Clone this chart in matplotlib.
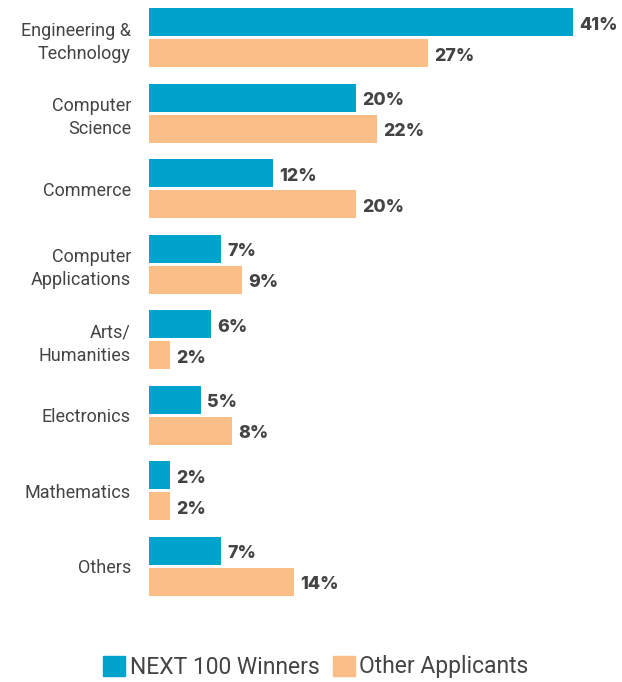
import matplotlib.pyplot as plt
from matplotlib.patches import Patch

categories = ['Engineering &\nTechnology', 'Computer\nScience', 'Commerce',
              'Computer\nApplications', 'Arts/\nHumanities', 'Electronics',
              'Mathematics', 'Others']
winners = [41, 20, 12, 7, 6, 5, 2, 7]
others = [27, 22, 20, 9, 2, 8, 2, 14]

teal = '#00a3cc'
peach = '#fbbe87'
text_col = '#444444'

fig = plt.figure(figsize=(6.22, 6.82), dpi=100)
ax = fig.add_axes([149 / 622, 1 - 604 / 682, 1 - 149 / 622, 604 / 682])

h = 0.37
gap = 0.02
pos = list(range(len(categories)))
b1 = ax.barh([p - h / 2 - gap for p in pos], winners, height=h, color=teal)
b2 = ax.barh([p + h / 2 + gap for p in pos], others, height=h, color=peach)

# value labels to the right of each bar
for bars, vals in [(b1, winners), (b2, others)]:
    for bar, v in zip(bars, vals):
        ax.text(bar.get_width() + 0.6, bar.get_y() + bar.get_height() / 2 + 0.04,
                f'{v}%', va='center', ha='left', fontsize=12.8,
                fontweight='heavy', color=text_col, family='Inter')

ax.set_xlim(0, 45.7)
ax.set_ylim(7.5, -0.5)
ax.set_yticks(pos)
ax.set_yticklabels(categories, fontsize=13, color=text_col, family='Roboto',
                   linespacing=1.35)
ax.set_xticks([])
ax.tick_params(axis='y', length=0, pad=13)
for s in ax.spines.values():
    s.set_visible(False)

handles = [Patch(color=teal, label='NEXT 100 Winners'),
           Patch(color=peach, label='Other Applicants')]
fig.legend(handles=handles, loc='center', bbox_to_anchor=(316 / 622, 1 - 667 / 682),
           ncol=2, frameon=False, prop={'family': 'Roboto', 'size': 16.5},
           handlelength=0.95, handleheight=0.95, handletextpad=0.2,
           columnspacing=0.6, labelcolor=text_col)

fig.savefig('out.png', dpi=100)
